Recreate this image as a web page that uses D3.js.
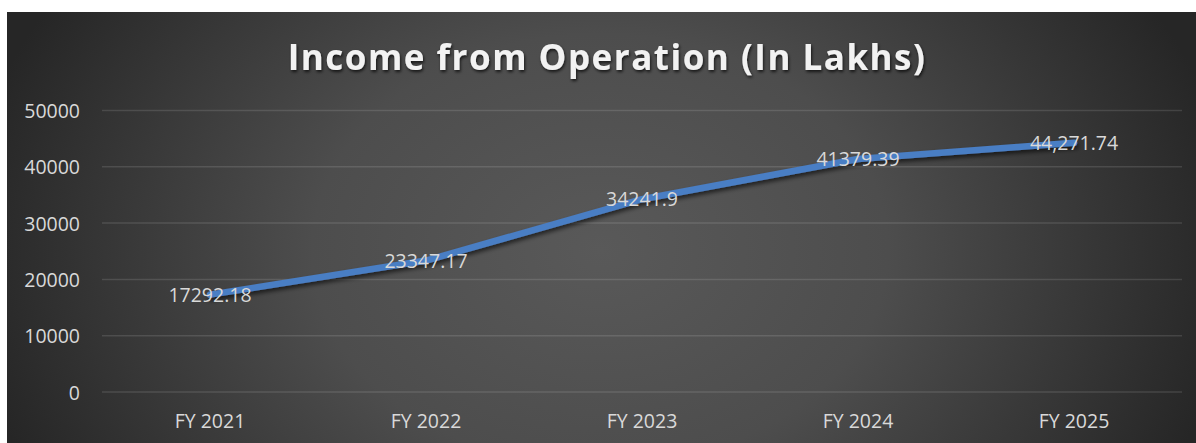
<!DOCTYPE html>
<html>
<head>
<meta charset="utf-8">
<script src="https://cdn.jsdelivr.net/npm/d3@7"></script>
<style>
  html, body { margin: 0; padding: 0; background: #fff; }
  svg { display: block; }
</style>
</head>
<body>
<div id="chart"></div>
<script>
const categories = ['FY 2021', 'FY 2022', 'FY 2023', 'FY 2024', 'FY 2025']
const incomeValues = [17292.18, 23347.17, 34241.9, 41379.39, 44271.74]
const valueLabels = ['17292.18', '23347.17', '34241.9', '41379.39', '44,271.74']
const yTicks = [0, 10000, 20000, 30000, 40000, 50000]

const width = 1196, height = 443
const margin = {top: 110.5, right: 14, bottom: 51, left: 102}

const svg = d3.select('#chart').append('svg')
    .attr('width', width)
    .attr('height', height)

const defs = svg.append('defs')
const grad = defs.append('radialGradient')
    .attr('id', 'bg')
    .attr('gradientUnits', 'userSpaceOnUse')
    .attr('cx', 600).attr('cy', 250).attr('r', 640)
    .attr('gradientTransform', 'translate(600,250) scale(1,0.75) translate(-600,-250)')
grad.append('stop').attr('offset', '0%').attr('stop-color', '#595959')
grad.append('stop').attr('offset', '45%').attr('stop-color', '#4d4d4d')
grad.append('stop').attr('offset', '100%').attr('stop-color', '#262626')

const shadow = defs.append('filter').attr('id', 'shadow')
    .attr('x', '-5%').attr('y', '-20%').attr('width', '110%').attr('height', '160%')
shadow.append('feDropShadow')
    .attr('dx', 1).attr('dy', 3).attr('stdDeviation', 2)
    .attr('flood-color', '#000').attr('flood-opacity', 0.6)

const tshadow = defs.append('filter').attr('id', 'tshadow')
tshadow.append('feDropShadow')
    .attr('dx', 1).attr('dy', 2).attr('stdDeviation', 1.5)
    .attr('flood-color', '#000').attr('flood-opacity', 0.7)

// chart area background
svg.append('rect')
    .attr('x', 7).attr('y', 12)
    .attr('width', width - 7).attr('height', height - 12)
    .attr('fill', 'url(#bg)')

const x = d3.scaleBand()
    .domain(categories)
    .range([margin.left, width - margin.right])

const y = d3.scaleLinear()
    .domain([0, 50000])
    .range([height - margin.bottom, margin.top])

// gridlines
svg.append('g')
    .selectAll('line')
    .data(yTicks)
    .join('line')
        .attr('x1', margin.left)
        .attr('x2', width - margin.right)
        .attr('y1', d => y(d))
        .attr('y2', d => y(d))
        .attr('stroke', 'rgba(255,255,255,0.12)')
        .attr('stroke-width', 1.5)

// y axis
const yAxis = svg.append('g')
    .attr('transform', 'translate(80,0)')
    .call(d3.axisLeft(y).tickValues(yTicks).tickSize(0).tickPadding(0).tickFormat(d => d))
yAxis.select('.domain').remove()
yAxis.selectAll('text')
    .attr('fill', '#d9d9d9')
    .attr('font-family', 'Open Sans, sans-serif')
    .attr('font-size', 19.5)
    .attr('dy', '0.36em')

// x axis
const xAxis = svg.append('g')
    .attr('transform', 'translate(0,' + (height - margin.bottom) + ')')
    .call(d3.axisBottom(x).tickSize(0).tickPadding(0))
xAxis.select('.domain').remove()
xAxis.selectAll('text')
    .attr('fill', '#d9d9d9')
    .attr('font-family', 'Open Sans, sans-serif')
    .attr('font-size', 19.5)
    .attr('y', 36)
    .attr('dy', 0)

// line
const line = d3.line()
    .x((d, i) => x(categories[i]) + x.bandwidth() / 2)
    .y(d => y(d))

svg.append('path')
    .datum(incomeValues)
    .attr('d', line)
    .attr('fill', 'none')
    .attr('stroke', '#4a7ec4')
    .attr('stroke-width', 6.5)
    .attr('stroke-linejoin', 'round')
    .attr('stroke-linecap', 'round')
    .attr('filter', 'url(#shadow)')

// data labels
svg.append('g')
    .selectAll('text')
    .data(incomeValues)
    .join('text')
        .attr('x', (d, i) => x(categories[i]) + x.bandwidth() / 2)
        .attr('y', d => y(d))
        .attr('dy', '0.36em')
        .attr('text-anchor', 'middle')
        .attr('fill', '#d9d9d9')
        .attr('font-family', 'Open Sans, sans-serif')
        .attr('font-size', 19.5)
        .text((d, i) => valueLabels[i])

// title
svg.append('text')
    .attr('x', 607)
    .attr('y', 70)
    .attr('text-anchor', 'middle')
    .attr('fill', '#f2f2f2')
    .attr('font-family', 'Open Sans, sans-serif')
    .attr('font-weight', 'bold')
    .attr('font-size', 35)
    .attr('letter-spacing', 1.5)
    .attr('filter', 'url(#tshadow)')
    .text('Income from Operation (In Lakhs)')
</script>
</body>
</html>
